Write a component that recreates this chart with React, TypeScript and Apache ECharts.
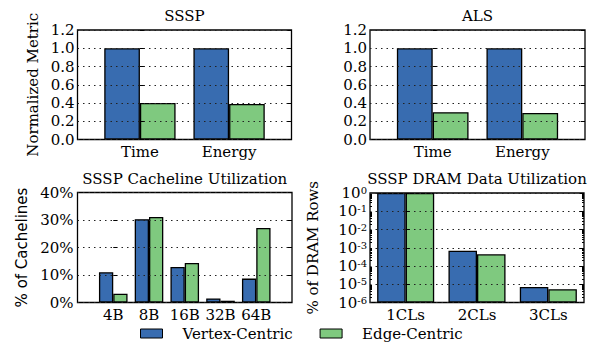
import React, { useEffect, useRef } from "react";
import * as echarts from "echarts";

const SERIF = "DejaVu Serif";
const SANS = "DejaVu Sans";
const BLUE = "#386cb0";
const GREEN = "#7fc97f";
const FS = 15;

const metricCats = ["Time", "Energy"];
const ssspVertex = [1.0, 1.0];
const ssspEdge = [0.40, 0.39];
const alsVertex = [1.0, 1.0];
const alsEdge = [0.30, 0.29];

const cachelineCats = ["4B", "8B", "16B", "32B", "64B"];
const cachelineVertex = [11.0, 30.3, 12.9, 1.5, 8.7];
const cachelineEdge = [3.2, 31.1, 14.4, 0.65, 27.1];

const dramCats = ["1CLs", "2CLs", "3CLs"];
const dramVertex = [0.999, 6.8e-4, 7.1e-6];
const dramEdge = [0.999, 4.4e-4, 5.4e-6];

const metricTicks = [0, 0.2, 0.4, 0.6, 0.8, 1.0, 1.2];
const pctTicks = [0, 10, 20, 30, 40];
const logExponents = [-6, -5, -4, -3, -2, -1, 0];

const titles = ["SSSP", "ALS", "SSSP Cacheline Utilization", "SSSP DRAM Data Utilization"];

const dottedStyle = () => ({ color: "#222", width: 1, type: [1.5, 4] });

export default function App() {
  const ref = useRef<HTMLDivElement>(null);
  useEffect(() => {
    if (!ref.current) return;
    const chart = echarts.init(ref.current, null, { renderer: "svg" });

    const grids = [
      { left: 77.5, top: 30, width: 214, height: 109.5 },
      { left: 370, top: 30, width: 215, height: 109.5 },
      { left: 77.5, top: 192.5, width: 214.5, height: 110 },
      { left: 370, top: 193, width: 214, height: 109.5 },
    ];
    // the DRAM panel is plotted in decades above its lowest decade (log10 scale)
    const logFloor = logExponents[0];
    const panels = [
      { cats: metricCats, v: ssspVertex, e: ssspEdge, xmin: -0.7, xmax: 1.7, log: false },
      { cats: metricCats, v: alsVertex, e: alsEdge, xmin: -0.7, xmax: 1.7, log: false },
      { cats: cachelineCats, v: cachelineVertex, e: cachelineEdge, xmin: -1, xmax: 5, log: false },
      { cats: dramCats, v: dramVertex, e: dramEdge, xmin: -0.5, xmax: 2.5, log: true },
    ];

    const tickFont = { fontFamily: SERIF, fontSize: FS, color: "#000" };

    const xAxis = panels.map((p, i) => {
      const idx = p.cats.map((_, k) => k);
      return {
        type: "value",
        gridIndex: i,
        min: p.xmin,
        max: p.xmax,
        axisLine: { show: false },
        axisTick: { show: false },
        splitLine: { show: false },
        axisLabel: {
          ...tickFont,
          margin: 5,
          customValues: idx,
          formatter: (v: number) => p.cats[Math.round(v)],
        },
      };
    });

    const yAxis: any[] = [];
    const mainIdx: number[] = [];
    const tickSide = (gridIndex: number, position: string, base: any, len: number, custom?: number[]) => ({
      ...base,
      gridIndex,
      position,
      z: 5,
      axisLine: { show: false },
      axisLabel: { show: false },
      splitLine: { show: false },
      axisTick: custom
        ? { show: true, inside: true, length: len, customValues: custom, lineStyle: { color: "#000", width: 1 } }
        : { show: true, inside: true, length: len, lineStyle: { color: "#000", width: 1 } },
    });

    const linBase01 = { type: "value", min: 0, max: 1.2, interval: 0.2 };
    const pctBase = { type: "value", min: 0, max: 40, interval: 10 };
    const decBase = { type: "value", min: 0, max: logExponents.length - 1, interval: 1 };
    const decTicks = logExponents.map((ex) => ex - logFloor);

    const minorDec: number[] = [];
    logExponents.slice(0, -1).forEach((ex) => {
      for (let m = 2; m <= 9; m++) minorDec.push(ex - logFloor + Math.log10(m));
    });

    // panel 0
    mainIdx.push(yAxis.length);
    yAxis.push({
      ...linBase01,
      gridIndex: 0,
      z: 5,
      name: "Normalized Metric",
      nameLocation: "middle",
      nameGap: 37,
      nameTextStyle: { fontFamily: SERIF, fontSize: FS, color: "#000" },
      axisLine: { show: false },
      axisTick: { show: true, inside: true, length: 4, lineStyle: { color: "#000" } },
      axisLabel: { ...tickFont, margin: 3, showMinLabel: true, showMaxLabel: true, formatter: (v: number) => v.toFixed(1), customValues: metricTicks },
      splitLine: { show: true, lineStyle: dottedStyle() },
    });
    yAxis.push(tickSide(0, "right", linBase01, 4));
    // panel 1
    mainIdx.push(yAxis.length);
    yAxis.push({
      ...linBase01,
      gridIndex: 1,
      z: 5,
      axisLine: { show: false },
      axisTick: { show: true, inside: true, length: 4, lineStyle: { color: "#000" } },
      axisLabel: { ...tickFont, margin: 3, showMinLabel: true, showMaxLabel: true, formatter: (v: number) => v.toFixed(1), customValues: metricTicks },
      splitLine: { show: true, lineStyle: dottedStyle() },
    });
    yAxis.push(tickSide(1, "right", linBase01, 4));
    // panel 2
    mainIdx.push(yAxis.length);
    yAxis.push({
      ...pctBase,
      gridIndex: 2,
      z: 5,
      name: "% of Cachelines",
      nameLocation: "middle",
      nameGap: 48,
      nameTextStyle: { fontFamily: SANS, fontSize: FS, color: "#000" },
      axisLine: { show: false },
      axisTick: { show: true, inside: true, length: 4, lineStyle: { color: "#000" } },
      axisLabel: { ...tickFont, margin: 4, showMinLabel: true, showMaxLabel: true, formatter: (v: number) => `${v}%`, customValues: pctTicks },
      splitLine: { show: true, lineStyle: dottedStyle() },
    });
    yAxis.push(tickSide(2, "right", pctBase, 4));
    // panel 3
    mainIdx.push(yAxis.length);
    yAxis.push({
      ...decBase,
      gridIndex: 3,
      z: 5,
      name: "% of DRAM Rows",
      nameLocation: "middle",
      nameGap: 50,
      nameTextStyle: { fontFamily: SERIF, fontSize: FS, color: "#000" },
      axisLine: { show: false },
      axisTick: { show: true, inside: true, length: 4, lineStyle: { color: "#000" } },
      axisLabel: {
        margin: 3,
        customValues: decTicks,
        formatter: (v: number) => `{b|10}{s|${Math.round(v) + logFloor}}`,
        rich: {
          b: { fontFamily: SERIF, fontSize: FS, color: "#000", verticalAlign: "bottom", lineHeight: 15, padding: [2, 0, 0, 0] },
          s: { fontFamily: SERIF, fontSize: 10, color: "#000", verticalAlign: "top", lineHeight: 10 },
        },
      },
      splitLine: { show: true, lineStyle: dottedStyle() },
    });
    yAxis.push(tickSide(3, "right", decBase, 4));
    yAxis.push(tickSide(3, "left", decBase, 2, minorDec));
    yAxis.push(tickSide(3, "right", decBase, 2, minorDec));

    const series: any[] = [];
    panels.forEach((p, i) => {
      const pairs = (vals: number[]) => vals.map((v, k) => [k, p.log ? Math.log10(v) - logFloor : v]);
      [
        { name: "Vertex-Centric", data: p.v, color: BLUE },
        { name: "Edge-Centric", data: p.e, color: GREEN },
      ].forEach((s) => {
        series.push({
          type: "bar",
          name: s.name,
          xAxisIndex: i,
          yAxisIndex: mainIdx[i],
          data: pairs(s.data),
          barWidth: "40%",
          barGap: "0%",
          z: 2,
          itemStyle: { color: s.color, borderColor: "#000", borderWidth: 1.3 },
        });
      });
    });

    const graphic = titles.map((t, i) => ({
      type: "text",
      x: grids[i].left + grids[i].width / 2,
      y: i < 2 ? 16 : 178.5,
      style: {
        text: t,
        fontFamily: SERIF,
        fontSize: FS,
        fill: "#000",
        textAlign: "center",
        textVerticalAlign: "middle",
      },
    }));

    chart.setOption({
      animation: false,
      backgroundColor: "#fff",
      grid: grids.map((g) => ({ ...g, show: true, borderColor: "#000", borderWidth: 1.3, backgroundColor: "transparent" })),
      xAxis,
      yAxis,
      series,
      graphic,
      legend: {
        data: ["Vertex-Centric", "Edge-Centric"],
        left: 135,
        top: 321,
        itemWidth: 22,
        itemHeight: 9,
        itemGap: 27,
        icon: "rect",
        itemStyle: { borderColor: "#000", borderWidth: 1 },
        textStyle: { fontFamily: SERIF, fontSize: FS, color: "#000", padding: [0, 0, 0, 15] },
      },
    });
    return () => chart.dispose();
  }, []);
  return <div ref={ref} style={{ position: "absolute", left: 0, top: 0, width: 595, height: 343 }} />;
}
